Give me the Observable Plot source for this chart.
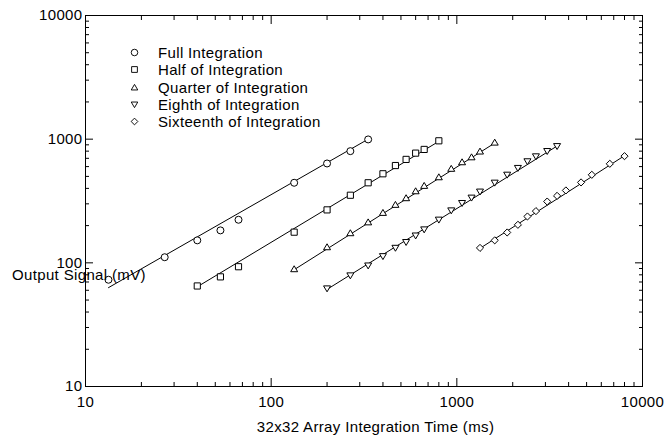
<!DOCTYPE html>
<html><head><meta charset="utf-8">
<script src="https://cdn.jsdelivr.net/npm/d3@7"></script>
<script src="https://cdn.jsdelivr.net/npm/@observablehq/plot@0.6"></script>
<style>
body{margin:0;background:#fff;}
#wrap{position:relative;width:666px;height:435px;font-family:"Liberation Sans",Arial,sans-serif;color:#000;background:#fff;}
#wrap svg.chart{position:absolute;left:0;top:0;}
.txt{position:absolute;font-size:15px;line-height:15px;white-space:nowrap;letter-spacing:0.35px;}
#ylab{left:12px;top:267px;}
#xlab{left:375.5px;top:419px;transform:translateX(-50%);}
#leg{position:absolute;left:126.5px;top:44px;}
#leg .lg-swatches{margin:0 !important;min-height:0 !important;font-size:15px !important;font-family:"Liberation Sans",Arial,sans-serif !important;letter-spacing:0.35px;columns:auto !important;display:block !important;}
#leg .lg-swatch{height:17.25px !important;line-height:17.25px !important;padding-bottom:0 !important;margin:0 !important;display:flex !important;align-items:center !important;}
#leg .lg-swatch svg{margin-right:16.5px !important;}
</style></head><body><div id="wrap"></div>
<script>
// ---- data ----
const seriesNames = ["Full Integration","Half of Integration","Quarter of Integration","Eighth of Integration","Sixteenth of Integration"];

const fullX = [13.3, 26.7, 40, 53.3, 66.7, 133, 200, 267, 333];
const fullY = [73, 111, 152, 183, 223, 444, 636, 800, 995];

const halfX = [40, 53.3, 66.7, 133, 200, 267, 333, 400, 467, 533, 600, 667, 800];
const halfY = [65, 77, 93, 177, 268, 352, 444, 525, 612, 686, 771, 826, 970];

const quarterX = [133, 200, 267, 333, 400, 467, 533, 600, 667, 800, 933, 1067, 1200, 1333, 1600];
const quarterY = [89, 134, 174, 213, 254, 295, 334, 380, 420, 493, 577, 652, 715, 796, 940];

const eighthX = [200, 267, 333, 400, 467, 533, 600, 667, 800, 933, 1067, 1200, 1333, 1600, 1867, 2133, 2400, 2667, 3067, 3467];
const eighthY = [62, 79, 95, 113, 132, 147, 166, 186, 223, 265, 304, 336, 376, 444, 515, 584, 661, 725, 800, 877];

const sixteenthX = [1333, 1600, 1867, 2133, 2400, 2667, 3067, 3467, 3867, 4667, 5333, 6667, 8000];
const sixteenthY = [132, 152, 176, 203, 237, 262, 313, 348, 385, 447, 515, 632, 729];

// fitted lines (end points)
const fullFitX = [13.3, 333],  fullFitY = [63, 1000];
const halfFitX = [40, 800],    halfFitY = [64, 960];
const quarterFitX = [133, 1600], quarterFitY = [88, 930];
const eighthFitX = [200, 3467],  eighthFitY = [61, 880];
const sixteenthFitX = [1333, 8000], sixteenthFitY = [131, 735];

const majorTicks = [10, 100, 1000, 10000];
const xTitle = "32x32 Array Integration Time (ms)";
const yTitle = "Output Signal (mV)";

// ---- build tables ----
const xsList = [fullX, halfX, quarterX, eighthX, sixteenthX];
const ysList = [fullY, halfY, quarterY, eighthY, sixteenthY];
const fxList = [fullFitX, halfFitX, quarterFitX, eighthFitX, sixteenthFitX];
const fyList = [fullFitY, halfFitY, quarterFitY, eighthFitY, sixteenthFitY];
const points = seriesNames.flatMap((s, i) => xsList[i].map((x, j) => ({series: s, x, y: ysList[i][j]})));
const fits = seriesNames.flatMap((s, i) => fxList[i].map((x, j) => ({series: s, x, y: fyList[i][j]})));

// ---- symbols ----
const rOf = size => Math.sqrt(size / Math.PI);
const triUp = {draw(c, size){const r = rOf(size); c.moveTo(0, -0.95*r); c.lineTo(r, 0.75*r); c.lineTo(-r, 0.75*r); c.closePath();}};
const triDown = {draw(c, size){const r = rOf(size); c.moveTo(0, 0.95*r); c.lineTo(r, -0.75*r); c.lineTo(-r, -0.75*r); c.closePath();}};
const diamond = {draw(c, size){const r = rOf(size)*1.02; c.moveTo(0, -r); c.lineTo(r, 0); c.lineTo(0, r); c.lineTo(-r, 0); c.closePath();}};
const squareS = {draw(c, size){const h = rOf(size)*0.88; c.moveTo(-h, -h); c.lineTo(h, -h); c.lineTo(h, h); c.lineTo(-h, h); c.closePath();}};
const symbols = [d3.symbolCircle, squareS, triUp, triDown, diamond];

// ---- layout ----
const W = 666, H = 435;
const M = {top: 15, right: 24, bottom: 49, left: 85};
const allTicks = d3.scaleLog().domain([10, 10000]).ticks();
const minorTicks = allTicks.filter(t => !majorTicks.includes(t));
const majL = 8, minL = 4;

// inward tick marks on all four sides, drawn with Plot's own axes shifted inside the frame
const inTicks = (ticks, len) => [
  Plot.axisX({ticks, anchor: "bottom", tickSize: len, dy: -len, fill: "none", stroke: "black", label: null}),
  Plot.axisX({ticks, anchor: "top", tickSize: len, dy: len, fill: "none", stroke: "black", label: null}),
  Plot.axisY({ticks, anchor: "left", tickSize: len, dx: len, fill: "none", stroke: "black", label: null}),
  Plot.axisY({ticks, anchor: "right", tickSize: len, dx: -len, fill: "none", stroke: "black", label: null})
];

const chart = Plot.plot({
  width: W, height: H,
  marginTop: M.top, marginRight: M.right, marginBottom: M.bottom, marginLeft: M.left,
  x: {type: "log", domain: [10, 10000]},
  y: {type: "log", domain: [10, 10000]},
  symbol: {domain: seriesNames, range: symbols},
  style: {fontFamily: '"Liberation Sans", Arial, sans-serif', fontSize: "15px", color: "black", background: "white", letterSpacing: "0.35px", overflow: "visible"},
  marks: [
    ...inTicks(majorTicks, majL),
    ...inTicks(minorTicks, minL),
    Plot.frame({stroke: "black"}),
    Plot.axisX({ticks: majorTicks, tickSize: 0, tickPadding: 10, tickFormat: d3.format("d"), label: null}),
    Plot.axisY({ticks: majorTicks, tickSize: 0, tickPadding: 3, tickFormat: d3.format("d"), label: null}),
    Plot.line(fits, {x: "x", y: "y", z: "series", stroke: "black", strokeWidth: 1}),
    Plot.dot(points, {x: "x", y: "y", symbol: "series", r: 3.5, fill: "white", stroke: "black", strokeWidth: 1})
  ]
});
chart.classList.add("chart");

const wrap = document.getElementById("wrap");
wrap.appendChild(chart);

const leg = document.createElement("div");
leg.id = "leg";
leg.appendChild(chart.legend("symbol", {className: "lg", columns: 1, swatchSize: 15, r: 3.5, fill: "white", stroke: "black", strokeWidth: 1}));
wrap.appendChild(leg);

const yl = document.createElement("div");
yl.className = "txt"; yl.id = "ylab"; yl.textContent = yTitle;
wrap.appendChild(yl);
const xl = document.createElement("div");
xl.className = "txt"; xl.id = "xlab"; xl.textContent = xTitle;
wrap.appendChild(xl);
</script>
</body></html>
